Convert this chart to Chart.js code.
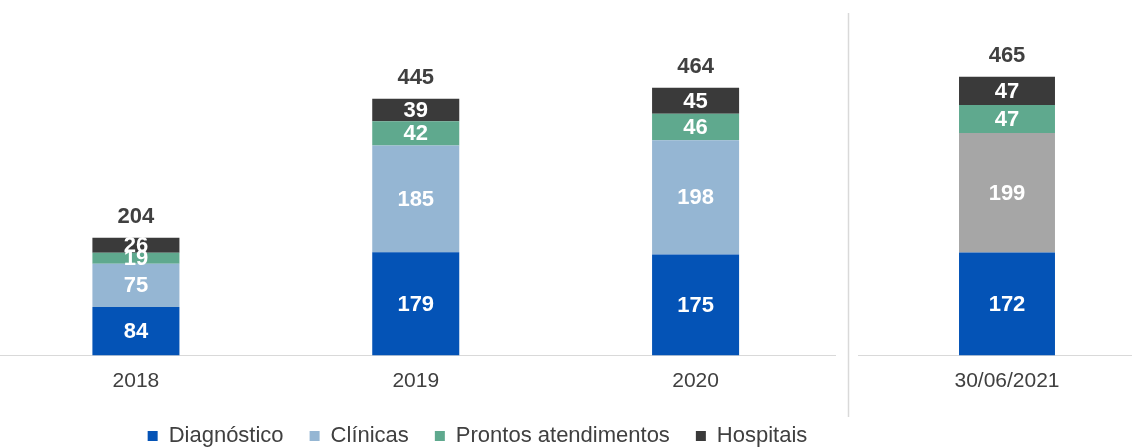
<!DOCTYPE html>
<html>
<head>
<meta charset="utf-8">
<script src="https://cdn.jsdelivr.net/npm/chart.js@4.4.1/dist/chart.umd.min.js"></script>
<style>
  html, body { margin: 0; padding: 0; background: #fff; overflow: hidden; }
  body { width: 1132px; height: 447px; position: relative; }
  #leftBox { position: absolute; left: -4px; top: 0; width: 963px; height: 447px; }
  #rightBox { position: absolute; left: 846px; top: 0; width: 310px; height: 447px; }
</style>
</head>
<body>
<div id="leftBox"><canvas id="yearsChart"></canvas></div>
<div id="rightBox"><canvas id="juneChart"></canvas></div>
<script>
// valores
const years = ['2018', '2019', '2020'];
const diagnostico = [84, 179, 175];
const clinicas = [75, 185, 198];
const prontos = [19, 42, 46];
const hospitais = [26, 39, 45];

const juneLabel = ['30/06/2021'];
const diagnosticoJun = [172];
const clinicasJun = [199];
const prontosJun = [47];
const hospitaisJun = [47];

const seriesNames = ['Diagnóstico', 'Clínicas', 'Prontos atendimentos', 'Hospitais'];

const BLUE = '#0453B6';
const LIGHT = '#95B6D3';
const GREEN = '#5FA98E';
const DARK = '#3A3A3A';
const GREY = '#A6A6A6';

Chart.defaults.font.family = "'Liberation Sans', Arial, sans-serif";
Chart.defaults.color = '#404040';

const labelFont = "bold 22px 'Liberation Sans', Arial, sans-serif";

// rótulos de valor dentro das barras e total acima
const valueLabels = {
    id: 'valueLabels',
    afterDatasetsDraw(chart) {
        let ctx = chart.ctx;
        let sets = chart.data.datasets;
        ctx.save();
        ctx.textAlign = 'center';
        ctx.textBaseline = 'middle';
        ctx.font = labelFont;
        sets.forEach(function (ds, i) {
            chart.getDatasetMeta(i).data.forEach(function (bar, j) {
                let p = bar.getProps(['x', 'y', 'base'], true);
                ctx.fillStyle = '#ffffff';
                ctx.fillText(ds.data[j], p.x, (p.y + p.base) / 2 + 1);
            });
        });
        chart.getDatasetMeta(sets.length - 1).data.forEach(function (bar, j) {
            let p = bar.getProps(['x', 'y'], true);
            let total = sets.reduce(function (s, ds) { return s + ds.data[j]; }, 0);
            ctx.fillStyle = '#404040';
            ctx.fillText(total, p.x, p.y - 21);
        });
        ctx.restore();
    }
};

// linha vertical que separa o último período
const separator = {
    id: 'separator',
    beforeDraw(chart) {
        let ctx = chart.ctx;
        let x = chart.scales.y.left + 2.5;
        ctx.save();
        ctx.strokeStyle = '#d9d9d9';
        ctx.lineWidth = 1.5;
        ctx.beginPath();
        ctx.moveTo(x, 13);
        ctx.lineTo(x, 417);
        ctx.stroke();
        ctx.restore();
    }
};

function xAxis(h) {
    return {
        stacked: true,
        grid: { display: false, drawTicks: false },
        border: { display: true, color: '#d9d9d9', width: 1 },
        ticks: { padding: 13, color: '#404040', font: { size: 21 } },
        afterFit: function (s) { s.height = h; }
    };
}

document.addEventListener("DOMContentLoaded", function () {
    let ctx = document.getElementById('yearsChart').getContext('2d');

    new Chart(ctx, {
        type: 'bar',
        data: {
            labels: years,
            datasets: [
                { label: seriesNames[0], data: diagnostico, backgroundColor: BLUE },
                { label: seriesNames[1], data: clinicas, backgroundColor: LIGHT },
                { label: seriesNames[2], data: prontos, backgroundColor: GREEN },
                { label: seriesNames[3], data: hospitais, backgroundColor: DARK }
            ]
        },
        options: {
            responsive: true,
            maintainAspectRatio: false,
            animation: false,
            datasets: { bar: { barPercentage: 0.311, categoryPercentage: 1 } },
            layout: { padding: { left: 0, right: 0, top: 0, bottom: -10 } },
            scales: {
                x: xAxis(43.5),
                y: {
                    stacked: true,
                    position: 'right',
                    min: 0,
                    max: 616,
                    grid: { display: false },
                    border: { display: false },
                    ticks: { display: false },
                    afterFit: function (s) { s.width = 123.5; }
                }
            },
            plugins: {
                legend: {
                    position: 'bottom',
                    labels: {
                        boxWidth: 10,
                        boxHeight: 10,
                        padding: 26,
                        color: '#404040',
                        font: { size: 22 }
                    }
                },
                tooltip: { enabled: false }
            }
        },
        plugins: [valueLabels]
    });

    let ctx2 = document.getElementById('juneChart').getContext('2d');

    new Chart(ctx2, {
        type: 'bar',
        data: {
            labels: juneLabel,
            datasets: [
                { label: seriesNames[0], data: diagnosticoJun, backgroundColor: BLUE },
                { label: seriesNames[1], data: clinicasJun, backgroundColor: GREY },
                { label: seriesNames[2], data: prontosJun, backgroundColor: GREEN },
                { label: seriesNames[3], data: hospitaisJun, backgroundColor: DARK }
            ]
        },
        options: {
            responsive: true,
            maintainAspectRatio: false,
            animation: false,
            datasets: { bar: { barPercentage: 0.322, categoryPercentage: 1 } },
            layout: { padding: { left: 0, right: 0, top: 0, bottom: 45.5 } },
            scales: {
                x: xAxis(46),
                y: {
                    stacked: true,
                    min: 0,
                    max: 593,
                    grid: { display: false },
                    border: { display: false },
                    ticks: { display: false },
                    afterFit: function (s) { s.width = 12; }
                }
            },
            plugins: {
                legend: { display: false },
                tooltip: { enabled: false }
            }
        },
        plugins: [valueLabels, separator]
    });
});
</script>
</body>
</html>
